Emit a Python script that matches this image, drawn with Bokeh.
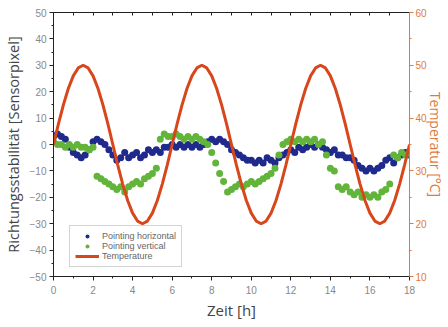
import numpy as np
from bokeh.plotting import figure
from bokeh.models import (Range1d, LinearAxis, SingleIntervalTicker, FixedTicker, Legend, LegendItem)
from bokeh.embed import file_html
from bokeh.resources import INLINE

# ---- data ----
pointing_time = np.round(np.arange(0, 18.001, 0.2), 2)
pointing_horizontal = [
    3, 4, 3, 2, -1, -3, -4, -5, -4, -2,
    1, 2, 1, 0, -2, -4, -6, -5, -3, -5,
    -4, -3, -5, -4, -2, -3, -2, -3, -1, -1,
    0, -1, 0, -1, 0, -1, 0, -1, 0, 1,
    2, 1, 2, 1, 0, -2, -3, -4, -5, -6,
    -6, -7, -6, -7, -5, -6, -7, -5, -4, -3,
    -2, -3, -1, -2, -1, 0, -1, 0, -1, -2,
    -3, -2, -4, -4, -5, -5, -6, -8, -9, -10,
    -9, -10, -9, -8, -6, -5, -7, -5, -4, -3,
    -4]
pointing_vertical = [
    1, 0, 0, -1, 0, -1, 0, -1, -1, -2,
    -1, -12, -13, -14, -15, -16, -17, -16, -18, -16,
    -15, -14, -15, -13, -12, -11, -9, 2, 4, 3,
    3, 4, 3, 2, 3, 2, 3, 2, 1, 0,
    -3, -7, -11, -14, -18, -17, -16, -15, -16, -15,
    -14, -15, -14, -13, -12, -11, -9, -4, 0, 1,
    2, 1, 2, 1, 2, 1, 2, 0, 1, -4,
    -9, -10, -16, -17, -16, -18, -19, -18, -20, -19,
    -20, -19, -20, -18, -17, -15, -4, -5, -3, -4,
    -3]
temp_time = np.round(np.arange(0, 18.001, 0.25), 2)
temperature = [
    35, 38.9, 42.5, 45.6, 48.0, 49.5, 50, 49.5, 48.0, 45.6, 42.5, 38.9,
    35, 31.1, 27.5, 24.4, 22.0, 20.5, 20, 20.5, 22.0, 24.4, 27.5, 31.1,
    35, 38.9, 42.5, 45.6, 48.0, 49.5, 50, 49.5, 48.0, 45.6, 42.5, 38.9,
    35, 31.1, 27.5, 24.4, 22.0, 20.5, 20, 20.5, 22.0, 24.4, 27.5, 31.1,
    35, 38.9, 42.5, 45.6, 48.0, 49.5, 50, 49.5, 48.0, 45.6, 42.5, 38.9,
    35, 31.1, 27.5, 24.4, 22.0, 20.5, 20, 20.5, 22.0, 24.4, 27.5, 31.1,
    35]
series_labels = ["Pointing horizontal", "Pointing vertical", "Temperature"]

BLUE = "#1f2a8c"
GREEN = "#62b43a"
RED = "#d8461c"
ORANGE = "#e07a3c"
FONT = "Open Sans"
TICKFONT = "Liberation Sans"

p = figure(frame_width=356, frame_height=264, output_backend="svg", toolbar_location=None,
           x_range=Range1d(0, 18), y_range=Range1d(-50, 50),
           x_axis_location=None, y_axis_location=None,
           min_border_left=44, min_border_right=30, min_border_top=12, min_border_bottom=42)
p.outline_line_color = None
p.xgrid.visible = False
p.ygrid.visible = False
p.extra_y_ranges = {"temp": Range1d(10, 60)}

def style(ax, color="#222222", label_color="#444444", tick_color="#888888"):
    ax.axis_line_color = color
    ax.major_tick_line_color = color
    ax.minor_tick_line_color = color
    ax.major_tick_out = 4
    ax.major_tick_in = 0
    ax.minor_tick_out = 2
    ax.minor_tick_in = 0
    ax.major_label_text_font = TICKFONT
    ax.major_label_text_font_size = "10px"
    ax.major_label_text_color = tick_color
    ax.axis_label_text_font = FONT
    ax.axis_label_text_font_style = "normal"
    ax.axis_label_text_font_size = "14.5px"
    ax.axis_label_text_color = label_color

left = LinearAxis(ticker=SingleIntervalTicker(interval=10, num_minor_ticks=2),
                  axis_label="Richtungsstabilität [Sensorpixel]")
style(left)
left.major_label_standoff = 3
left.axis_label_standoff = 4
p.add_layout(left, "left")

bottom = LinearAxis(ticker=SingleIntervalTicker(interval=2, num_minor_ticks=2),
                    axis_label="Zeit [h]")
style(bottom)
bottom.axis_label_text_font_size = "15px"
bottom.major_label_standoff = 5
bottom.axis_label_standoff = 3
p.add_layout(bottom, "below")

# top mirror axis: line with inward ticks, no labels
top = LinearAxis(ticker=FixedTicker(ticks=[], minor_ticks=list(range(0, 19))))
style(top)
top.major_tick_out = 0
top.minor_tick_out = 0
top.minor_tick_in = 3
p.add_layout(top, "above")

right = LinearAxis(y_range_name="temp",
                   ticker=SingleIntervalTicker(interval=10, num_minor_ticks=2),
                   axis_label="Temperatur [°C]")
style(right, color=ORANGE, label_color=ORANGE, tick_color=ORANGE)
right.axis_label_text_font_size = "14px"
right.major_label_standoff = 2
right.axis_label_standoff = -4
p.add_layout(right, "right")

r_h = p.scatter(pointing_time, pointing_horizontal, size=7, color=BLUE, line_color=None)
r_v = p.scatter(pointing_time, pointing_vertical, size=7, color=GREEN, line_color=None)
r_t = p.line(temp_time, temperature, y_range_name="temp", line_color=RED, line_width=3)

legend = Legend(items=[LegendItem(label=series_labels[0], renderers=[r_h]),
                       LegendItem(label=series_labels[1], renderers=[r_v]),
                       LegendItem(label=series_labels[2], renderers=[r_t])],
                location=(16, 9))
legend.label_text_font = TICKFONT
legend.label_text_font_size = "9px"
legend.label_text_color = "#666666"
legend.label_height = 10
legend.glyph_height = 10
legend.glyph_width = 24
legend.spacing = 0
legend.padding = 5
legend.margin = 0
legend.label_standoff = 3
legend.border_line_color = "#aaaaaa"
legend.background_fill_color = "white"
p.add_layout(legend, "center")

open("out.html", "w").write(file_html(p, INLINE))
